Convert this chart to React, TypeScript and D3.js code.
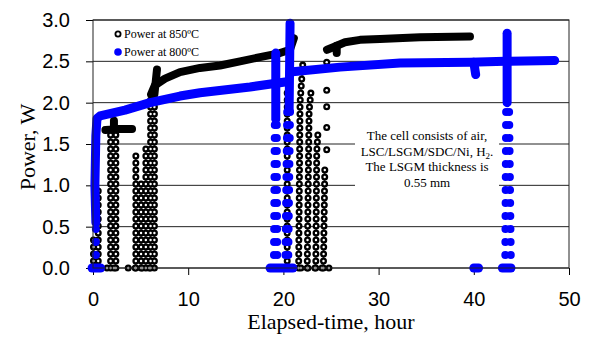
import React, { useEffect, useRef } from 'react';
import * as d3 from 'd3';

type Pt = [number, number]; // [elapsed hours, power W]

const xTicks = [0, 10, 20, 30, 40, 50];
const yTicks = [0, 0.5, 1.0, 1.5, 2.0, 2.5, 3.0];
const seriesNames = ['Power at 850ºC', 'Power at 800ºC'];
const noteLines = ['The cell consists of air,', 'LSC/LSGM/SDC/Ni, H', 'The LSGM thickness is', '0.55 mm'];

// 850ºC – stretches where the markers run together into a band
const band850: Pt[][] = [
  [[1.3, 1.67], [2.6, 1.68], [4.1, 1.68]],
  [[2.2, 1.68], [2.2, 1.78]],
  [[6.1, 2.1], [6.5, 2.21], [7.56, 2.29], [9.14, 2.37], [11.24, 2.42], [13.34, 2.45],
    [15.44, 2.5], [17.54, 2.55], [19.64, 2.6], [20.69, 2.64], [21.1, 2.78]],
  [[6.45, 2.1], [6.72, 2.4]],
  [[24.58, 2.64], [25.42, 2.68], [26.47, 2.73], [28.05, 2.76], [30.15, 2.77], [34.35, 2.79], [39.6, 2.8]],
  [[25.6, 2.69], [25.6, 2.6]],
];

// 850ºC – start-ups and shut-downs where single markers stay apart
const drops850: Pt[][] = [
  [[0.05, 0], [0.05, 0.35]],
  [[0.55, 0], [0.55, 1.0]],
  [[0, 0], [2.6, 0]],
  [[1.85, 0], [1.85, 1.68]],
  [[2.4, 0], [2.4, 1.68]],
  [[3.7, 0], [6.3, 0]],
  [[4.5, 0], [4.5, 1.39]],
  [[5.05, 0], [5.05, 1.1]],
  [[5.55, 0], [5.55, 1.52]],
  [[6.05, 0], [6.05, 2.1]],
  [[6.45, 0], [6.45, 2.1]],
  [[18.9, 0], [25.0, 0]],
  [[20.4, 0], [20.4, 2.2]],
  [[21.6, 0], [21.75, 2.0], [22.05, 2.49]],
  [[22.5, 0], [22.7, 1.9], [22.95, 2.19]],
  [[23.4, 0], [23.5, 1.4], [23.65, 1.67]],
  [[24.2, 0], [24.35, 1.2]],
];

const points850: Pt[] = [
  [24.55, 2.49], [24.55, 2.15], [24.55, 1.95], [24.55, 1.7], [24.55, 1.43],
];

// 800ºC – dense stretches
const band800: Pt[][] = [
  [[0.3, 0.55], [0.2, 1.0], [0.3, 1.6], [0.42, 1.81], [0.74, 1.84], [3.36, 1.91], [5.99, 2.0],
    [9.14, 2.08], [11.24, 2.12], [16.49, 2.19], [20.17, 2.25]],
  [[-0.1, 0], [0.8, 0]],
  [[19.2, 1.8], [19.2, 2.6]],
  [[20.6, 1.9], [20.7, 2.96]],
  [[18.6, 0], [21.0, 0]],
  [[20.7, 2.37], [25.95, 2.43], [32.25, 2.48], [39.6, 2.49], [43.28, 2.5]],
  [[40.0, 2.49], [40.2, 2.34]],
  [[40.0, 0], [40.5, 0]],
  [[43.5, 2.0], [43.5, 2.84]],
  [[43.8, 2.5], [48.5, 2.51]],
  [[43.0, 0], [43.9, 0]],
];

// 800ºC – separated markers (shut-down and restart legs side by side)
const drops800: Pt[][] = [
  [[0.3, 0], [0.3, 0.55]],
  [[19.0, 0], [19.1, 1.8]],
  [[19.35, 0], [19.3, 1.8]],
  [[20.2, 0], [20.4, 1.9]],
  [[20.5, 0], [20.7, 1.9]],
  [[43.3, 0], [43.4, 2.0]],
  [[43.9, 0], [43.7, 2.0]],
];

const W = 592;
const H = 338;
const margin = { top: 20, right: 23, bottom: 70, left: 93 };
const serif = "'Liberation Serif', 'Times New Roman', serif";
const sans = "'Liberation Sans', Arial, sans-serif";

const App = () => {
  const ref = useRef<SVGSVGElement>(null);

  useEffect(() => {
    const svg = d3.select(ref.current);
    svg.selectAll('*').remove();

    const innerW = W - margin.left - margin.right;
    const innerH = H - margin.top - margin.bottom;

    const x = d3.scaleLinear().domain([0, 50]).range([0, innerW]);
    const y = d3.scaleLinear().domain([0, 3]).range([innerH, 0]);

    svg.append('rect').attr('width', W).attr('height', H).attr('fill', '#fff');

    const g = svg.append('g').attr('transform', `translate(${margin.left},${margin.top})`);

    // horizontal gridlines
    g.selectAll('line.grid')
      .data(yTicks)
      .join('line')
      .attr('class', 'grid')
      .attr('x1', 0)
      .attr('x2', innerW)
      .attr('y1', d => y(d))
      .attr('y2', d => y(d))
      .attr('stroke', '#222')
      .attr('stroke-width', 1);

    // axes
    const yAxis = g.append('g')
      .call(d3.axisLeft(y).tickValues(yTicks).tickFormat(d3.format('.1f')).tickSize(7).tickSizeOuter(0).tickPadding(16));
    const xAxis = g.append('g')
      .attr('transform', `translate(0,${innerH})`)
      .call(d3.axisBottom(x).tickValues(xTicks).tickSize(7).tickSizeOuter(0).tickPadding(17));
    [xAxis, yAxis].forEach(a => {
      a.select('.domain').remove();
      a.selectAll('line').attr('stroke', '#000');
      a.selectAll('text').attr('font-family', sans).attr('font-size', 20).attr('fill', '#000');
    });

    // note box
    const note = g.append('g');
    note.append('rect')
      .attr('x', 262).attr('y', 106).attr('width', 144).attr('height', 70)
      .attr('fill', '#fff');
    const noteText = note.append('text')
      .attr('font-family', serif)
      .attr('font-size', 13)
      .attr('text-anchor', 'middle');
    noteLines.forEach((s, i) => {
      noteText.append('tspan').attr('x', 334).attr('y', 120 + i * 15.5).text(s);
      if (i === 1) {
        noteText.append('tspan').attr('font-size', 9).attr('dy', 3).text('2');
        noteText.append('tspan').attr('dy', -3).text('.');
      }
    });

    const line = d3.line<Pt>().x(d => x(d[0])).y(d => y(d[1]));

    // 850ºC series: open rings
    const rings = g.append('g');
    rings.selectAll('path.ring-o')
      .data(drops850)
      .join('path')
      .attr('d', line)
      .attr('fill', 'none')
      .attr('stroke', '#000')
      .attr('stroke-width', 7)
      .attr('stroke-linecap', 'round')
      .attr('stroke-dasharray', '0 7');
    rings.selectAll('circle.pt-o')
      .data(points850)
      .join('circle')
      .attr('cx', d => x(d[0]))
      .attr('cy', d => y(d[1]))
      .attr('r', 3.5)
      .attr('fill', '#000');
    rings.selectAll('path.ring-i')
      .data(drops850)
      .join('path')
      .attr('d', line)
      .attr('fill', 'none')
      .attr('stroke', '#fff')
      .attr('stroke-width', 2.4)
      .attr('stroke-linecap', 'round')
      .attr('stroke-dasharray', '0 7');
    rings.selectAll('circle.pt-i')
      .data(points850)
      .join('circle')
      .attr('cx', d => x(d[0]))
      .attr('cy', d => y(d[1]))
      .attr('r', 1.2)
      .attr('fill', '#fff');

    g.append('g').selectAll('path')
      .data(band850)
      .join('path')
      .attr('d', line)
      .attr('fill', 'none')
      .attr('stroke', '#000')
      .attr('stroke-width', 8)
      .attr('stroke-linecap', 'round')
      .attr('stroke-linejoin', 'round');

    // 800ºC series: filled blue dots
    const blue = '#0000ff';
    g.append('g').selectAll('path')
      .data(drops800)
      .join('path')
      .attr('d', line)
      .attr('fill', 'none')
      .attr('stroke', blue)
      .attr('stroke-width', 8)
      .attr('stroke-linecap', 'round')
      .attr('stroke-dasharray', '0 13');
    g.append('g').selectAll('path')
      .data(band800)
      .join('path')
      .attr('d', line)
      .attr('fill', 'none')
      .attr('stroke', blue)
      .attr('stroke-width', 9)
      .attr('stroke-linecap', 'round')
      .attr('stroke-linejoin', 'round');

    // frame
    g.append('rect')
      .attr('width', innerW)
      .attr('height', innerH)
      .attr('fill', 'none')
      .attr('stroke', '#222')
      .attr('stroke-width', 1);

    // legend
    const legend = g.append('g').attr('transform', 'translate(25,14)');
    seriesNames.forEach((name, i) => {
      const row = legend.append('g').attr('transform', `translate(0,${i * 18})`);
      if (i === 0) {
        row.append('circle').attr('r', 2.6).attr('fill', 'none').attr('stroke', '#000').attr('stroke-width', 1.8);
      } else {
        row.append('circle').attr('r', 3.8).attr('fill', blue);
      }
      row.append('text')
        .attr('x', 6)
        .attr('y', 4)
        .attr('font-family', serif)
        .attr('font-size', 12)
        .text(name);
    });

    // axis titles
    svg.append('text')
      .attr('transform', `translate(35,${margin.top + innerH / 2 + 3}) rotate(-90)`)
      .attr('text-anchor', 'middle')
      .attr('font-family', serif)
      .attr('font-size', 22)
      .text('Power, W');
    svg.append('text')
      .attr('x', margin.left + innerW / 2)
      .attr('y', 329)
      .attr('text-anchor', 'middle')
      .attr('font-family', serif)
      .attr('font-size', 22)
      .text('Elapsed-time, hour');
  }, []);

  return (
    <svg
      ref={ref}
      width={W}
      height={H}
      style={{ position: 'absolute', left: 0, top: 0 }}
    />
  );
};

export default App;
